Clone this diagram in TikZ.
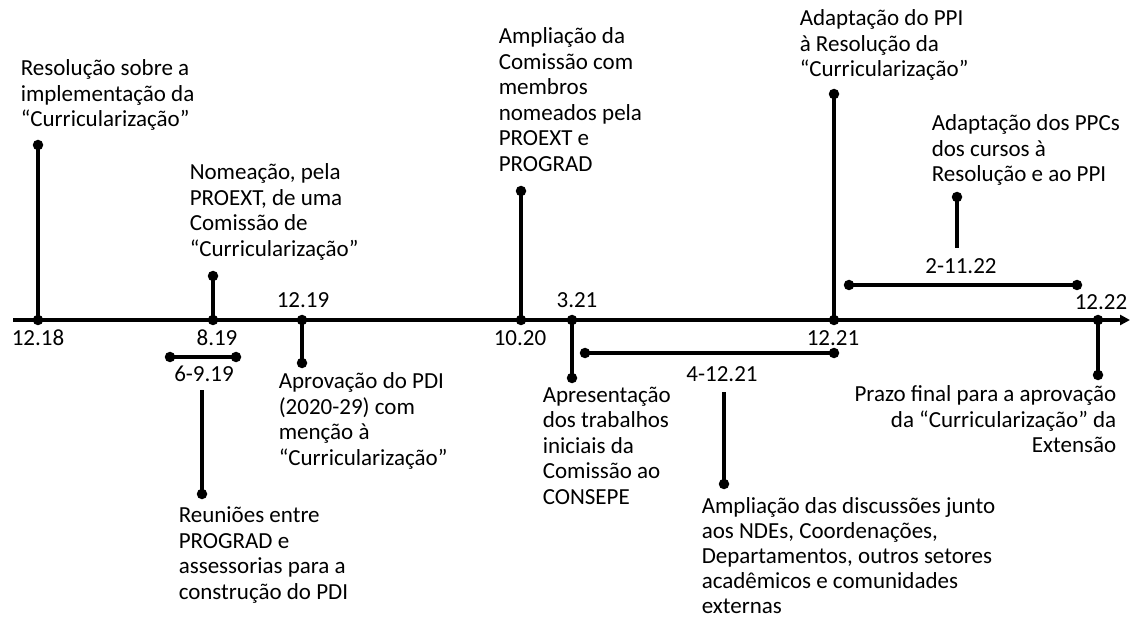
\documentclass[tikz,border=0pt]{standalone}
\usepackage{fontspec}
\setmainfont{Carlito}
\usetikzlibrary{arrows.meta}
\tikzset{pt/.style={circle, fill=black, inner sep=0pt, minimum size=10.5pt},
evt/.style={align=left, anchor=north west, inner sep=0pt, font=\fontsize{23}{25.5}\selectfont},
date/.style={inner sep=0pt, font=\fontsize{23}{25.5}\selectfont}}

\begin{document}
\begin{tikzpicture}[x=1pt, y=-1pt, line width=3.5pt]
  \useasboundingbox (0,0) rectangle (1130,620);

    % points on the axis
    \coordinate (start) at (13,320);
    \coordinate (end) at (1130,320);
    \coordinate (t1218) at (38,320);
    \coordinate (t0819) at (213,320);
    \coordinate (t1219) at (302,320);
    \coordinate (t1020) at (521,320);
    \coordinate (t0321) at (572,320);
    \coordinate (t1221) at (834,320);
    \coordinate (t1222) at (1098,320);

    % ends of the stems
    \coordinate (p1218) at (38,145);
    \coordinate (p0819) at (213,276);
    \coordinate (p1219) at (302,363);
    \coordinate (p1020) at (521,191);
    \coordinate (p0321) at (572,378);
    \coordinate (p1221) at (834,94);
    \coordinate (p1222) at (1098,375);

    % periods
    \coordinate (r1a) at (170,357);
    \coordinate (r1b) at (236,357);
    \coordinate (r1c) at (202,390);
    \coordinate (r1d) at (202,494);
    \coordinate (r2a) at (585,353);
    \coordinate (r2b) at (834,353);
    \coordinate (r2c) at (724,392);
    \coordinate (r2d) at (724,484);
    \coordinate (r3a) at (849,285);
    \coordinate (r3b) at (1077,285);
    \coordinate (r3c) at (957,248);
    \coordinate (r3d) at (957,197);

    \draw[-{Triangle[length=10pt,width=10pt]}] (start) -- (end);

    \foreach \i in {1218,0819,1219,1020,0321,1221,1222}
    \draw (t\i) -- (p\i);

    \foreach \i in {1,2,3}
    {\draw (r\i a) -- (r\i b);
    \draw (r\i c) -- (r\i d);}

    \foreach \i in {t1218,t0819,t1219,t1020,t0321,t1221,t1222,p1218,p0819,p1219,p1020,p0321,p1221,p1222}
    \node[pt] at (\i) {};

    \foreach \i in {1,2,3}
    {\node[pt] at (r\i a) {};
    \node[pt] at (r\i b) {};
    \node[pt] at (r\i d) {};}

    % dates
    \node[date] (d1218) at (38,338) {12.18};
    \node[date] (d0819) at (217,338) {8.19};
    \node[date] (d1219) at (303,300) {12.19};
    \node[date] (d1020) at (520,338) {10.20};
    \node[date] (d0321) at (577,300) {3.21};
    \node[date] (d1221) at (833,338) {12.21};
    \node[date] (d1222) at (1101,302) {12.22};
    \node[date] (dr1) at (204,374) {6-9.19};
    \node[date] (dr2) at (722,374) {4-12.21};
    \node[date] (dr3) at (961,266) {2-11.22};

    % events
    \node[evt] (e1218) at (19,58) {Resolução sobre a\\implementação da\\“Curricularização”};
    \node[evt] (e0819) at (188,162) {Nomeação, pela\\PROEXT, de uma\\Comissão de\\“Curricularização”};
    \node[evt] (e1219) at (277,371) {Aprovação do PDI\\(2020-29) com\\menção à\\“Curricularização”};
    \node[evt] (er1) at (177,505) {Reuniões entre\\PROGRAD e\\assessorias para a\\construção do PDI};
    \node[evt] (e1020) at (497,26) {Ampliação da\\Comissão com\\membros\\nomeados pela\\PROEXT e\\PROGRAD};
    \node[evt] (e0321) at (541,385) {Apresentação\\dos trabalhos\\iniciais da\\Comissão ao\\CONSEPE};
    \node[evt, font=\fontsize{23}{25}\selectfont] (er2) at (700,496) {Ampliação das discussões junto\\aos NDEs, Coordenações,\\Departamentos, outros setores\\acadêmicos e comunidades\\externas};
    \node[evt] (e1221) at (798,8) {Adaptação do PPI\\à Resolução da\\“Curricularização”};
    \node[evt] (er3) at (930,113) {Adaptação dos PPCs\\dos cursos à\\Resolução e ao PPI};
    \node[evt, anchor=north east, align=right] (e1222) at (1118,384) {Prazo final para a aprovação\\da “Curricularização” da\\Extensão};

  \end{tikzpicture}
\end{document}
